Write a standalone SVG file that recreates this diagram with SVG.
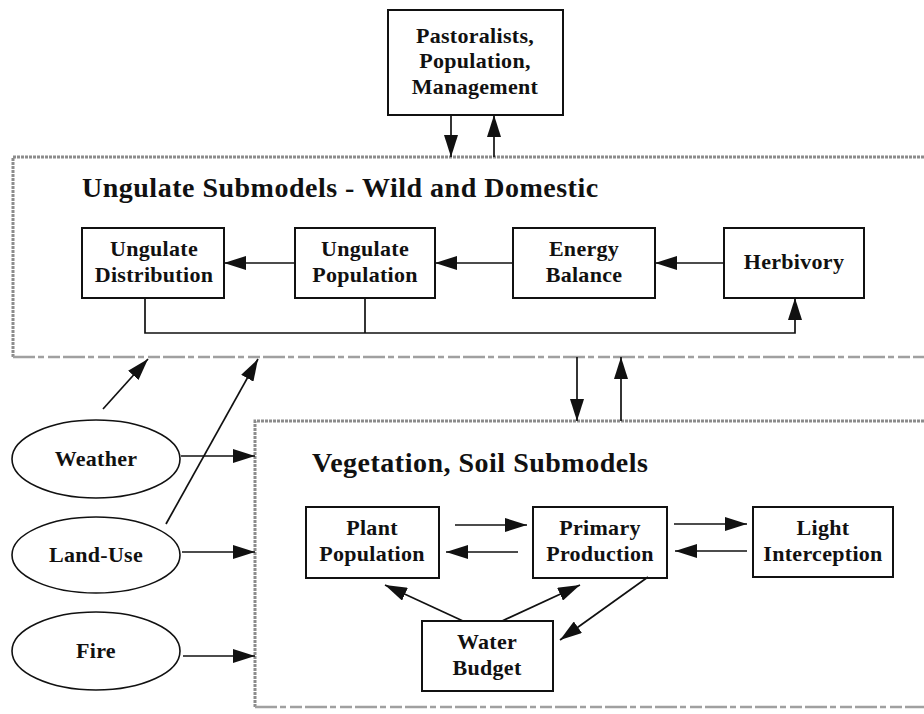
<svg xmlns="http://www.w3.org/2000/svg" width="924" height="714" viewBox="0 0 924 714">
  <style>
    text { font-family: "Liberation Serif", "Times New Roman", serif; font-weight: bold; fill: #111; }
    .lbl { font-size: 22px; text-anchor: middle; letter-spacing: 0.3px; }
    .title { font-size: 28px; letter-spacing: 0.5px; }
    .box { fill: #fff; stroke: #111; stroke-width: 2; }
    .oval { fill: #fff; stroke: #111; stroke-width: 1.6; }
    .edge { fill: none; stroke: #8c8c8c; stroke-width: 3; stroke-dasharray: 3 1; }
    .edge-light { fill: none; stroke: #a0a0a0; stroke-width: 2.5; stroke-dasharray: 22 3 6 4 12 3; }
    .conn { fill: none; stroke: #111; stroke-width: 1.7; }
  </style>
  <defs>
    <marker id="arrow" viewBox="0 0 22 14" refX="22" refY="7" markerWidth="22" markerHeight="14" markerUnits="userSpaceOnUse" orient="auto">
      <path d="M0,0 L22,7 L0,14 Z" fill="#111"/>
    </marker>
  </defs>
  <rect width="924" height="714" fill="#fff"/>

  <!-- submodel frames (right sides run past the page edge) -->
  <g id="ungulate-submodels">
    <path class="edge" d="M924,157 L13,157 L13,357"/>
    <path class="edge-light" d="M13,357 L924,357"/>
    <text class="title" x="82" y="197">Ungulate Submodels - Wild and Domestic</text>
  </g>
  <g id="vegetation-submodels">
    <path class="edge" d="M924,421 L255,421 L255,707"/>
    <path class="edge-light" d="M255,707 L924,707"/>
    <text class="title" x="312" y="472">Vegetation, Soil Submodels</text>
  </g>

  <!-- nodes -->
  <g id="pastoralists">
    <rect class="box" x="388" y="10" width="175" height="105"/>
    <text class="lbl" x="475" y="43">Pastoralists,</text>
    <text class="lbl" x="475" y="68">Population,</text>
    <text class="lbl" x="475" y="94">Management</text>
  </g>
  <g id="ungulate-distribution">
    <rect class="box" x="82" y="228" width="142" height="70"/>
    <text class="lbl" x="154" y="256">Ungulate</text>
    <text class="lbl" x="154" y="282">Distribution</text>
  </g>
  <g id="ungulate-population">
    <rect class="box" x="295" y="228" width="140" height="70"/>
    <text class="lbl" x="365" y="256">Ungulate</text>
    <text class="lbl" x="365" y="282">Population</text>
  </g>
  <g id="energy-balance">
    <rect class="box" x="513" y="228" width="142" height="70"/>
    <text class="lbl" x="584" y="256">Energy</text>
    <text class="lbl" x="584" y="282">Balance</text>
  </g>
  <g id="herbivory">
    <rect class="box" x="724" y="228" width="140" height="70"/>
    <text class="lbl" x="794" y="269">Herbivory</text>
  </g>
  <g id="plant-population">
    <rect class="box" x="306" y="507" width="133" height="71"/>
    <text class="lbl" x="372" y="535">Plant</text>
    <text class="lbl" x="372" y="561">Population</text>
  </g>
  <g id="primary-production">
    <rect class="box" x="533" y="507" width="134" height="71"/>
    <text class="lbl" x="600" y="535">Primary</text>
    <text class="lbl" x="600" y="561">Production</text>
  </g>
  <g id="light-interception">
    <rect class="box" x="753" y="507" width="140" height="70"/>
    <text class="lbl" x="823" y="535">Light</text>
    <text class="lbl" x="823" y="561">Interception</text>
  </g>
  <g id="water-budget">
    <rect class="box" x="422" y="621" width="131" height="70"/>
    <text class="lbl" x="487" y="649">Water</text>
    <text class="lbl" x="487" y="675">Budget</text>
  </g>
  <g id="weather">
    <ellipse class="oval" cx="96" cy="459" rx="84" ry="39"/>
    <text class="lbl" x="96" y="466">Weather</text>
  </g>
  <g id="land-use">
    <ellipse class="oval" cx="96" cy="555" rx="84" ry="38"/>
    <text class="lbl" x="96" y="562">Land-Use</text>
  </g>
  <g id="fire">
    <ellipse class="oval" cx="96" cy="651" rx="84" ry="39"/>
    <text class="lbl" x="96" y="658">Fire</text>
  </g>

  <!-- connectors -->
  <g id="connectors">
    <line class="conn" x1="451" y1="115" x2="451" y2="157" marker-end="url(#arrow)"/>
    <line class="conn" x1="494" y1="157" x2="494" y2="115" marker-end="url(#arrow)"/>

    <line class="conn" x1="724" y1="263" x2="655" y2="263" marker-end="url(#arrow)"/>
    <line class="conn" x1="513" y1="263" x2="435" y2="263" marker-end="url(#arrow)"/>
    <line class="conn" x1="295" y1="263" x2="224" y2="263" marker-end="url(#arrow)"/>
    <polyline class="conn" points="145,298 145,333 795,333 795,298" marker-end="url(#arrow)"/>
    <line class="conn" x1="365" y1="298" x2="365" y2="333"/>

    <line class="conn" x1="577" y1="357" x2="577" y2="421" marker-end="url(#arrow)"/>
    <line class="conn" x1="621" y1="421" x2="621" y2="357" marker-end="url(#arrow)"/>

    <line class="conn" x1="103" y1="409" x2="148" y2="359" marker-end="url(#arrow)"/>
    <line class="conn" x1="166" y1="524" x2="258" y2="359" marker-end="url(#arrow)"/>
    <line class="conn" x1="181" y1="456" x2="255" y2="456" marker-end="url(#arrow)"/>
    <line class="conn" x1="182" y1="552" x2="255" y2="552" marker-end="url(#arrow)"/>
    <line class="conn" x1="183" y1="656" x2="255" y2="656" marker-end="url(#arrow)"/>

    <line class="conn" x1="455" y1="525" x2="527" y2="525" marker-end="url(#arrow)"/>
    <line class="conn" x1="518" y1="552" x2="446" y2="552" marker-end="url(#arrow)"/>
    <line class="conn" x1="674" y1="524" x2="747" y2="524" marker-end="url(#arrow)"/>
    <line class="conn" x1="747" y1="551" x2="675" y2="551" marker-end="url(#arrow)"/>

    <line class="conn" x1="463" y1="621" x2="385" y2="585" marker-end="url(#arrow)"/>
    <line class="conn" x1="502" y1="621" x2="580" y2="585" marker-end="url(#arrow)"/>
    <line class="conn" x1="648" y1="577" x2="560" y2="640" marker-end="url(#arrow)"/>
  </g>
</svg>
